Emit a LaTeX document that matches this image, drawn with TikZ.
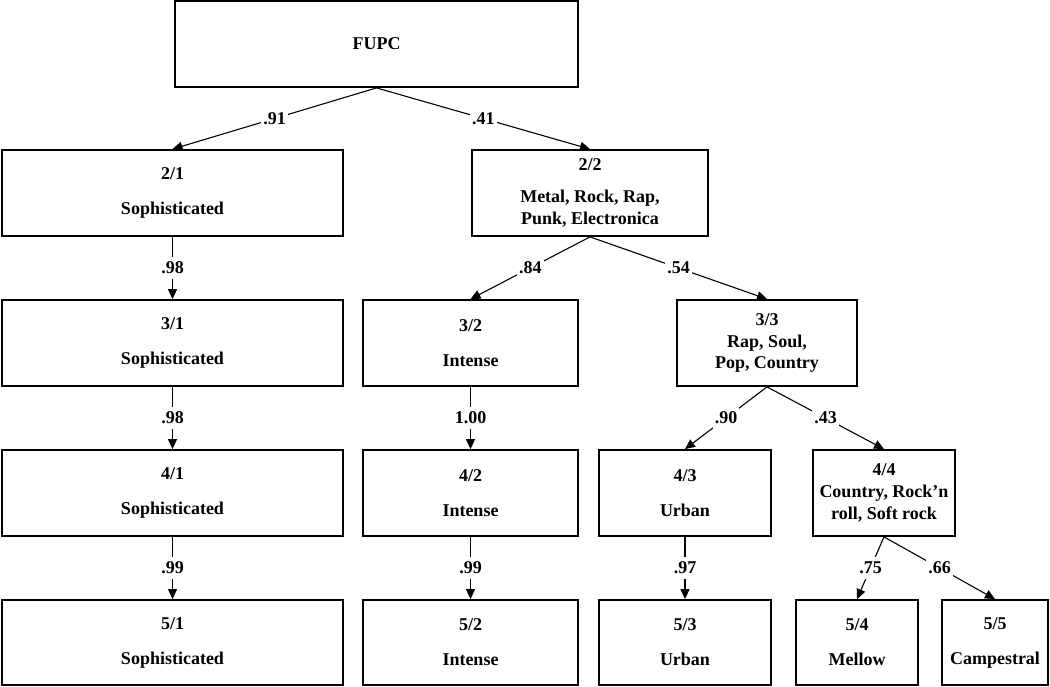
\documentclass[tikz,border=0pt]{standalone}
\usepackage{fontspec}
\setmainfont{Liberation Serif}
\usetikzlibrary{arrows.meta}
\begin{document}
\begin{tikzpicture}[x=1pt,y=-1pt,
  box/.style={draw, line width=1.8pt, rectangle, minimum height=86pt, align=center, inner sep=0pt,
    font=\fontsize{18}{21.6}\selectfont\bfseries},
  arr/.style={line width=1.1pt, -{Triangle[length=10pt,width=9pt]}},
  lbl/.style={fill=white, inner xsep=2pt, inner ysep=5pt,
    font=\fontsize{18}{21.6}\selectfont\bfseries}]
\path[use as bounding box] (0,0) rectangle (1050,686);

% row 1
\node[box, minimum width=403pt] (fupc) at (376.5,44) {FUPC};
% row 2
\node[box, minimum width=341pt] (b21) at (172.5,193) {2/1\\[13.4pt]Sophisticated};
\node[box, minimum width=236pt] (b22) at (590,193) {2/2\\[10pt]Metal, Rock, Rap,\\Punk, Electronica};
% row 3
\node[box, minimum width=341pt] (b31) at (172.5,343) {3/1\\[13.4pt]Sophisticated};
\node[box, minimum width=215pt] (b32) at (470.5,343) {3/2\\[13.4pt]Intense};
\node[box, minimum width=180pt] (b33) at (767,343) {3/3\\Rap, Soul,\\Pop, Country};
% row 4
\node[box, minimum width=341pt] (b41) at (172.5,493) {4/1\\[13.4pt]Sophisticated};
\node[box, minimum width=215pt] (b42) at (470.5,493) {4/2\\[13.4pt]Intense};
\node[box, minimum width=172pt] (b43) at (685,493) {4/3\\[13.4pt]Urban};
\node[box, minimum width=142pt] (b44) at (884,493) {4/4\\Country, Rock’n\\roll, Soft rock};
% row 5
\node[box, minimum width=341pt, minimum height=85pt] (b51) at (172.5,642.5) {5/1\\[13.4pt]Sophisticated};
\node[box, minimum width=215pt, minimum height=85pt] (b52) at (470.5,642.5) {5/2\\[13.4pt]Intense};
\node[box, minimum width=172pt, minimum height=85pt] (b53) at (685,642.5) {5/3\\[13.4pt]Urban};
\node[box, minimum width=122pt, minimum height=85pt] (b54) at (857,642.5) {5/4\\[13.4pt]Mellow};
\node[box, minimum width=106pt, minimum height=85pt] (b55) at (995,642.5) {5/5\\[13.4pt]Campestral};

% connectors
\draw[arr] (fupc.south) -- node[lbl] {.91} (b21.north);
\draw[arr] (fupc.south) -- node[lbl] {.41} (b22.north);
\draw[arr] (b21.south) -- node[lbl] {.98} (b31.north);
\draw[arr] (b22.south) -- node[lbl] {.84} (b32.north);
\draw[arr] (b22.south) -- node[lbl] {.54} (b33.north);
\draw[arr] (b31.south) -- node[lbl] {.98} (b41.north);
\draw[arr] (b32.south) -- node[lbl] {1.00} (b42.north);
\draw[arr] (b33.south) -- node[lbl] {.90} (b43.north);
\draw[arr] (b33.south) -- node[lbl] {.43} (b44.north);
\draw[arr] (b41.south) -- node[lbl] {.99} (b51.north);
\draw[arr] (b42.south) -- node[lbl] {.99} (b52.north);
\draw[arr] (b43.south) -- node[lbl] {.97} (b53.north);
\draw[arr] (b44.south) -- node[lbl] {.75} (b54.north);
\draw[arr] (b44.south) -- node[lbl] {.66} (b55.north);
\end{tikzpicture}
\end{document}
